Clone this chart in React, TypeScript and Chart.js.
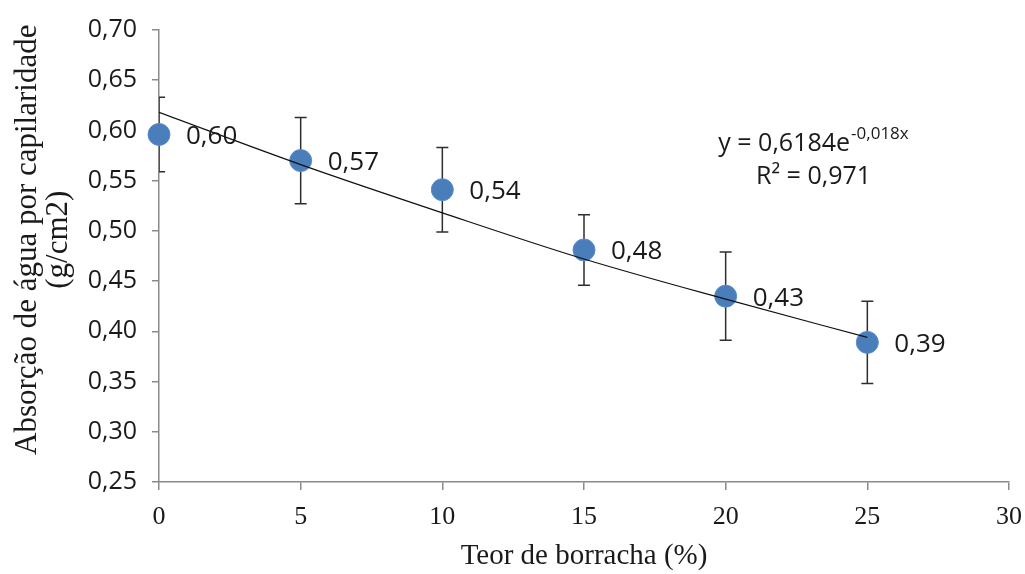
import React, { useEffect, useRef } from 'react';
import { Chart, registerables } from 'chart.js';

Chart.register(...registerables);

// ---- Data ----
const xValues = [0, 5, 10, 15, 20, 25];
const absorption = [0.596, 0.57, 0.541, 0.481, 0.435, 0.389];
const errorValues = [0.037, 0.043, 0.042, 0.035, 0.044, 0.041];
const pointLabels = ['0,60', '0,57', '0,54', '0,48', '0,43', '0,39'];
const trendValues = [0.618, 0.566, 0.518, 0.472, 0.432, 0.394];

const xTitle = 'Teor de borracha (%)';
const yTitleLines = ['Absorção de água por capilaridade', '(g/cm2)'];
const equationBase = 'y = 0,6184e';
const equationExp = '-0,018x';
const r2Text = 'R² = 0,971';
const equationAnchor = { x: 23.1, y1: 0.587, y2: 0.554 };

const errorBarPlugin = {
  id: 'errorBarsAndLabels',
  beforeDatasetsDraw(chart: any) {
    const { ctx, chartArea, scales } = chart;
    const x = scales.x;
    const y = scales.y;
    ctx.save();
    ctx.beginPath();
    ctx.rect(chartArea.left, chartArea.top - 30, chartArea.right - chartArea.left, chartArea.bottom - chartArea.top + 30);
    ctx.clip();
    ctx.strokeStyle = '#2e2e2e';
    ctx.lineWidth = 1.5;
    xValues.forEach((xv, i) => {
      const px = x.getPixelForValue(xv);
      const top = y.getPixelForValue(absorption[i] + errorValues[i]);
      const bot = y.getPixelForValue(absorption[i] - errorValues[i]);
      ctx.beginPath();
      ctx.moveTo(px, top);
      ctx.lineTo(px, bot);
      ctx.moveTo(px - 6, top);
      ctx.lineTo(px + 6, top);
      ctx.moveTo(px - 6, bot);
      ctx.lineTo(px + 6, bot);
      ctx.stroke();
    });
    ctx.restore();
  },
  afterDatasetsDraw(chart: any) {
    const { ctx, scales, chartArea } = chart;
    const x = scales.x;
    const y = scales.y;
    ctx.save();
    ctx.fillStyle = '#1a1a1a';
    ctx.textBaseline = 'middle';
    ctx.textAlign = 'left';
    ctx.font = '26px "Open Sans"';
    xValues.forEach((xv, i) => {
      const px = x.getPixelForValue(xv);
      const py = y.getPixelForValue(absorption[i]);
      ctx.fillText(pointLabels[i], px + 27, py + 2);
    });

    // trendline equation
    const cx = x.getPixelForValue(equationAnchor.x);
    const baseFont = '25px "Open Sans"';
    const expFont = '17px "Open Sans"';
    ctx.font = baseFont;
    const wBase = ctx.measureText(equationBase).width;
    ctx.font = expFont;
    const wExp = ctx.measureText(equationExp).width;
    const total = wBase + wExp + 1;
    const y1 = y.getPixelForValue(equationAnchor.y1);
    const sx = cx - total / 2;
    ctx.font = baseFont;
    ctx.fillText(equationBase, sx, y1);
    ctx.font = expFont;
    ctx.fillText(equationExp, sx + wBase + 1, y1 - 9);
    ctx.font = baseFont;
    ctx.textAlign = 'center';
    ctx.fillText(r2Text, cx, y.getPixelForValue(equationAnchor.y2));

    // y axis title (two rotated lines)
    const titleCenterY = chartArea.top + (chartArea.bottom - chartArea.top) * 0.464;
    ctx.font = '31px "Liberation Serif"';
    ctx.textAlign = 'center';
    ctx.textBaseline = 'middle';
    ctx.translate(28, titleCenterY);
    ctx.rotate(-Math.PI / 2);
    ctx.fillText(yTitleLines[0], 0, 0);
    ctx.fillText(yTitleLines[1], 0, 31);
    ctx.restore();
  },
};

export default function App() {
  const canvasRef = useRef<HTMLCanvasElement | null>(null);

  useEffect(() => {
    document.body.style.margin = '0';
    const canvas = canvasRef.current;
    if (!canvas) return;
    const chart = new Chart(canvas, {
      type: 'scatter',
      data: {
        datasets: [
          {
            label: 'Tendência',
            type: 'line',
            data: xValues.map((xv, i) => ({ x: xv, y: trendValues[i] })),
            borderColor: '#111111',
            borderWidth: 1.2,
            pointRadius: 0,
            tension: 0.4,
            cubicInterpolationMode: 'monotone',
            fill: false,
            order: 0,
          } as any,
          {
            label: 'Absorção',
            data: xValues.map((xv, i) => ({ x: xv, y: absorption[i] })),
            backgroundColor: '#4a7ebb',
            borderColor: '#5a8dcb',
            borderWidth: 1,
            pointRadius: 11,
            pointHoverRadius: 11,
            clip: false,
            order: 1,
          } as any,
        ],
      },
      options: {
        responsive: false,
        animation: false,
        events: [],
        layout: { padding: { top: 25, right: 16, left: 0, bottom: 0 } },
        plugins: {
          legend: { display: false },
          tooltip: { enabled: false },
        },
        scales: {
          x: {
            type: 'linear',
            min: 0,
            max: 30,
            afterFit: (scale: any) => {
              scale.height = 92;
              scale.paddingRight = 0;
              scale.paddingLeft = 0;
            },
            ticks: {
              stepSize: 5,
              color: '#1a1a1a',
              padding: 12,
              font: { family: '"Liberation Serif"', size: 26 },
            },
            grid: {
              display: true,
              drawOnChartArea: false,
              drawTicks: true,
              tickLength: 8,
              color: '#8a8a8a',
              lineWidth: 1.5,
            },
            border: { display: true, color: '#8a8a8a', width: 1.5 },
            title: {
              display: true,
              text: xTitle,
              color: '#1a1a1a',
              font: { family: '"Liberation Serif"', size: 29, lineHeight: 1.2 },
              padding: { top: 0, bottom: 0 },
            },
          },
          y: {
            type: 'linear',
            min: 0.25,
            max: 0.7,
            afterFit: (scale: any) => {
              scale.width = 159;
            },
            ticks: {
              stepSize: 0.05,
              color: '#1a1a1a',
              padding: 15,
              font: { family: '"Open Sans"', size: 25 },
              callback: (v: any) => Number(v).toFixed(2).replace('.', ','),
            },
            grid: {
              display: true,
              drawOnChartArea: false,
              drawTicks: true,
              tickLength: 7,
              color: '#8a8a8a',
              lineWidth: 1.5,
            },
            border: { display: true, color: '#8a8a8a', width: 1.5 },
            title: { display: false },
          },
        },
      },
      plugins: [errorBarPlugin],
    });
    return () => chart.destroy();
  }, []);

  return (
    <div style={{ position: 'absolute', left: 0, top: 0, width: 1025, height: 574, background: '#ffffff' }}>
      <canvas ref={canvasRef} width={1025} height={574} />
    </div>
  );
}
